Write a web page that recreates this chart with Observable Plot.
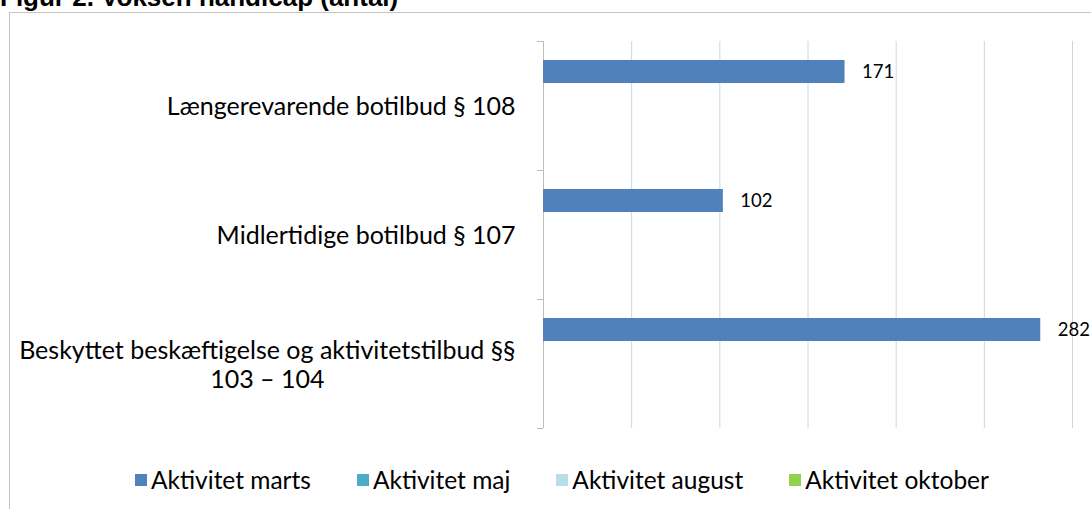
<!DOCTYPE html>
<html><head><meta charset="utf-8">
<script src="https://cdn.jsdelivr.net/npm/d3@7"></script>
<script src="https://cdn.jsdelivr.net/npm/@observablehq/plot@0.6"></script>
<style>
html,body{margin:0;padding:0;background:#fff;width:1091px;height:509px;overflow:hidden;position:relative;}
#frame{position:absolute;left:9px;top:12px;width:1100px;height:520px;border:1px solid #c4c4c4;box-sizing:border-box;}
#title{position:absolute;left:0;top:-16px;font:bold 26px "Liberation Sans",Arial,sans-serif;line-height:26px;color:#000;white-space:nowrap;}
#chart{position:absolute;left:0;top:0;}
#legend{position:absolute;left:0;width:1091px;top:465px;display:flex;justify-content:center;padding-left:33px;box-sizing:border-box;}
#legend .lg-swatches, #legend .lg-swatches-wrap{font-family:Lato,sans-serif !important;font-size:24.5px !important;color:#000;margin:0 !important;min-height:0 !important;}
#legend .lg-swatch{margin-right:46px !important;}
#legend .lg-swatch:last-child{margin-right:0 !important;}
#legend .lg-swatch > svg{margin-right:4px !important;}
</style></head><body>
<div id="frame"></div>
<div id="title">Figur 2. Voksen handicap (antal)</div>
<div id="chart"></div>
<div id="legend"></div>
<script>
const categories = [
  "Længerevarende botilbud § 108",
  "Midlertidige botilbud § 107",
  "Beskyttet beskæftigelse og aktivitetstilbud §§\n103 – 104"
];
const seriesNames = ["Aktivitet marts", "Aktivitet maj", "Aktivitet august", "Aktivitet oktober"];
const aktivitetMarts = [171, 102, 282];
const aktivitetMaj = [null, null, null];
const aktivitetAugust = [null, null, null];
const aktivitetOktober = [null, null, null];
const seriesColors = ["#4F81BD", "#4BACC6", "#B7DEE8", "#92D050"];
const xTicks = [0, 50, 100, 150, 200, 250, 300];

const seriesValues = [aktivitetMarts, aktivitetMaj, aktivitetAugust, aktivitetOktober];
const table = categories.flatMap((c, i) =>
  seriesNames.map((s, j) => ({category: c, series: s, value: seriesValues[j][i]})));
const shown = table.filter(d => d.value != null);

const chart = Plot.plot({
  width: 1091,
  height: 445,
  marginLeft: 543,
  marginRight: 19,
  marginTop: 40,
  marginBottom: 17,
  style: {background: "transparent", fontFamily: "Lato, sans-serif", color: "#000", overflow: "visible"},
  x: {domain: [xTicks[0], xTicks[xTicks.length - 1]], axis: null},
  y: {domain: seriesNames, paddingInner: 0, paddingOuter: 0.7, axis: null},
  fy: {domain: categories, padding: 0, axis: null, label: null},
  color: {domain: seriesNames, range: seriesColors},
  marks: [
    Plot.ruleX(xTicks.slice(1), {stroke: "#D0D5DC", strokeWidth: 1}),
    Plot.ruleX([0], {stroke: "#BDBDBD", strokeWidth: 1}),
    Plot.barX(shown, {fy: "category", y: "series", x: "value", fill: "series"}),
    Plot.text(shown, {fy: "category", y: "series", x: "value", text: d => String(d.value),
      textAnchor: "start", dx: 17, fontSize: 18.5, fill: "#000"}),
    Plot.axisFy({anchor: "left", tickSize: 0, tickPadding: 28, fontSize: 25,
      textAnchor: "end", lineHeight: 1.15, label: null, fill: "#000"})
  ]
});
document.getElementById("chart").append(chart);

// small boundary ticks on the category axis, from the library's scales
const fy = chart.scale("fy");
const xs = chart.scale("x");
const x0 = xs.apply(0);
const bounds = fy.domain.map(c => fy.apply(c));
bounds.push(fy.apply(fy.domain[fy.domain.length - 1]) + fy.bandwidth);
d3.select(chart).append("g").selectAll("line").data(bounds).join("line")
  .attr("x1", x0 - 6).attr("x2", x0).attr("y1", d => d + 0.5).attr("y2", d => d + 0.5)
  .attr("stroke", "#BDBDBD");

// centre wrapped lines of a multi-line category label under its longest line
d3.select(chart).selectAll("text").each(function() {
  const tspans = this.querySelectorAll("tspan");
  if (tspans.length < 2) return;
  const w = Array.from(tspans, t => t.getComputedTextLength());
  const W = Math.max(...w);
  tspans.forEach((t, k) => t.setAttribute("x", -(W - w[k]) / 2));
});

const legend = chart.legend("color", {legend: "swatches", swatchSize: 12, className: "lg"});
document.getElementById("legend").append(legend);
</script>
</body></html>
